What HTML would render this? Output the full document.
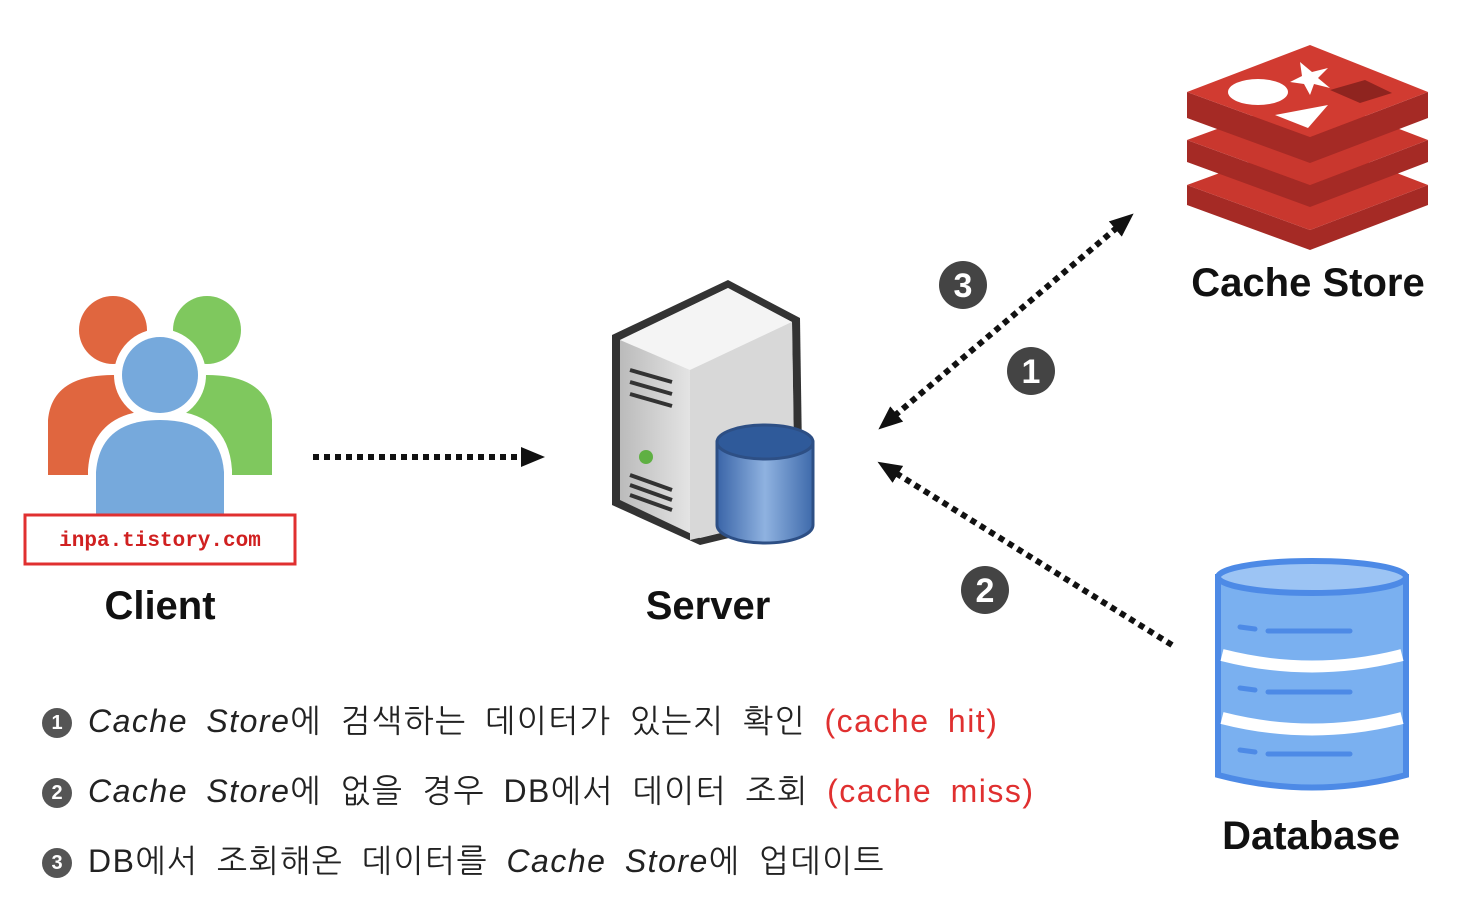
<!DOCTYPE html>
<html><head><meta charset="utf-8"><style>
body{margin:0;width:1468px;height:904px;background:#fff;overflow:hidden;position:relative;font-family:"Liberation Sans","NanumGothic",sans-serif}
.t{position:absolute;white-space:nowrap}
.lbl{font-weight:bold;font-size:40px;color:#111;transform:translateX(-50%)}
.line{position:absolute;left:42px;font-size:32px;color:#222;letter-spacing:1.5px;word-spacing:8px;font-family:"Liberation Sans","NanumGothic",sans-serif}
.line i{font-style:italic}
.red{color:#e03030}
.c{display:inline-block;width:30px;height:30px;border-radius:50%;background:#555;color:#fff;font-size:20px;text-align:center;line-height:30px;vertical-align:3px;margin-right:16px;font-weight:bold;letter-spacing:0}
</style></head><body>
<svg width="1468" height="904" style="position:absolute;left:0;top:0">
<defs>
<marker id="ah" markerWidth="24" markerHeight="20" refX="14" refY="10" orient="auto-start-reverse" markerUnits="userSpaceOnUse" viewBox="0 0 24 20"><path d="M0,0 L24,10 L0,20 z" fill="#111"/></marker>
<linearGradient id="srv" x1="0" x2="1"><stop offset="0" stop-color="#bbb"/><stop offset=".5" stop-color="#eee"/><stop offset="1" stop-color="#ccc"/></linearGradient>
<linearGradient id="cyl" x1="0" x2="1"><stop offset="0" stop-color="#3a65a8"/><stop offset=".5" stop-color="#8fb2e0"/><stop offset="1" stop-color="#3e6aab"/></linearGradient>
</defs>
<circle cx="113" cy="330" r="34" fill="#e0663f"/>
<path d="M48,475 L48,420 Q52,375 113,375 Q150,375 165,400 L165,475z" fill="#e0663f"/>
<circle cx="207" cy="330" r="34" fill="#7fc85e"/>
<path d="M160,475 L160,400 Q175,375 207,375 Q268,375 272,420 L272,475z" fill="#7fc85e"/>
<circle cx="160" cy="375" r="46" fill="#fff"/>
<path d="M88,515 L88,470 Q92,410 160,410 Q228,410 232,470 L232,515z" fill="#fff"/>
<circle cx="160" cy="375" r="38" fill="#76a9dc"/>
<path d="M96,515 L96,472 Q100,420 160,420 Q220,420 224,472 L224,515z" fill="#76a9dc"/>
<rect x="25" y="515" width="270" height="49" fill="#fff" stroke="#e03030" stroke-width="3"/>
<text x="160" y="546" font-family="Liberation Mono,monospace" font-size="21" fill="#d02020" text-anchor="middle" font-weight="bold">inpa.tistory.com</text>
<line x1="313" y1="457" x2="535" y2="457" stroke="#111" stroke-width="6" stroke-dasharray="6,5" marker-end="url(#ah)"/>
<path d="M612,335 L728,280 L800,318 L803,520 L700,545 L612,505z" fill="#333"/>
<path d="M620,340 L728,288 L792,322 L795,515 L700,538 L620,500z" fill="url(#srv)"/>
<path d="M620,340 L728,288 L792,322 L690,370z" fill="#f4f4f4"/>
<path d="M690,370 L792,322 L795,515 L690,540z" fill="#d8d8d8"/>
<g stroke="#333" stroke-width="4"><line x1="630" y1="370" x2="672" y2="382"/><line x1="630" y1="382" x2="672" y2="394"/><line x1="630" y1="394" x2="672" y2="406"/><line x1="630" y1="475" x2="672" y2="490"/><line x1="630" y1="485" x2="672" y2="500"/><line x1="630" y1="495" x2="672" y2="510"/></g>
<circle cx="646" cy="457" r="7" fill="#5fb043"/>
<path d="M717,442 L717,525 A48,18 0 0 0 813,525 L813,442z" fill="url(#cyl)" stroke="#2d4f85" stroke-width="3"/>
<ellipse cx="765" cy="442" rx="48" ry="17" fill="#2f5a9a" stroke="#2d4f85" stroke-width="3"/>
<line x1="886" y1="423" x2="1126" y2="220" stroke="#111" stroke-width="6" stroke-dasharray="6,5" marker-start="url(#ah)" marker-end="url(#ah)"/>
<line x1="1172" y1="645" x2="886" y2="467" stroke="#111" stroke-width="6" stroke-dasharray="6,5" marker-end="url(#ah)"/>
<g font-family="Liberation Sans,sans-serif" font-weight="bold" font-size="34" fill="#fff" text-anchor="middle">
<circle cx="963" cy="285" r="24" fill="#444"/><text x="963" y="297">3</text>
<circle cx="1031" cy="371" r="24" fill="#444"/><text x="1031" y="383">1</text>
<circle cx="985" cy="590" r="24" fill="#444"/><text x="985" y="602">2</text>
</g>
<g>
<path d="M1187,185 L1310,230 L1428,185 L1428,205 L1310,250 L1187,205z" fill="#a52a25"/>
<path d="M1187,185 L1310,140 L1428,185 L1310,230z" fill="#c9372e"/>
<path d="M1187,140 L1310,185 L1428,140 L1428,162 L1310,207 L1187,162z" fill="#a52a25"/>
<path d="M1187,140 L1310,95 L1428,140 L1310,185z" fill="#c9372e"/>
<path d="M1187,92 L1310,137 L1428,92 L1428,118 L1310,163 L1187,118z" fill="#a52a25"/>
<path d="M1187,92 L1310,45 L1428,92 L1310,137z" fill="#d13b31"/>
<ellipse cx="1258" cy="92" rx="30" ry="13" fill="#fff"/>
<path d="M1275,115 L1328,105 L1308,128z" fill="#fff"/>
<path d="M1300,62 L1312,72 L1328,68 L1318,78 L1330,88 L1314,84 L1310,95 L1304,84 L1290,82 L1302,76z" fill="#fff"/>
<path d="M1330,90 L1365,80 L1392,93 L1360,103z" fill="#8f241f"/>
</g>
<g fill="#7ab0f0" stroke="#4d8ae6" stroke-width="6">
<path d="M1218,577 L1218,775 Q1312,800 1406,775 L1406,577z"/>
<ellipse cx="1312" cy="577" rx="94" ry="16" fill="#9cc4f4"/>
</g>
<g stroke="#fff" stroke-width="12" fill="none"><path d="M1222,655 Q1312,678 1402,655"/><path d="M1222,718 Q1312,741 1402,718"/></g>
<g stroke="#4d8ae6" stroke-width="5" stroke-linecap="round"><line x1="1240" y1="627" x2="1255" y2="629"/><line x1="1268" y1="631" x2="1350" y2="631"/><line x1="1240" y1="688" x2="1255" y2="690"/><line x1="1268" y1="692" x2="1350" y2="692"/><line x1="1240" y1="750" x2="1255" y2="752"/><line x1="1268" y1="754" x2="1350" y2="754"/></g>
</svg>
<div class="t lbl" style="left:160px;top:584px">Client</div>
<div class="t lbl" style="left:708px;top:584px">Server</div>
<div class="t lbl" style="left:1308px;top:261px">Cache Store</div>
<div class="t lbl" style="left:1311px;top:814px">Database</div>
<div class="t line" style="top:701px"><span class="c">1</span><i>Cache Store</i>에 검색하는 데이터가 있는지 확인 <span class="red">(cache hit)</span></div>
<div class="t line" style="top:771px"><span class="c">2</span><i>Cache Store</i>에 없을 경우 DB에서 데이터 조회 <span class="red">(cache miss)</span></div>
<div class="t line" style="top:841px"><span class="c">3</span>DB에서 조회해온 데이터를 <i>Cache Store</i>에 업데이트</div>
</body></html>
